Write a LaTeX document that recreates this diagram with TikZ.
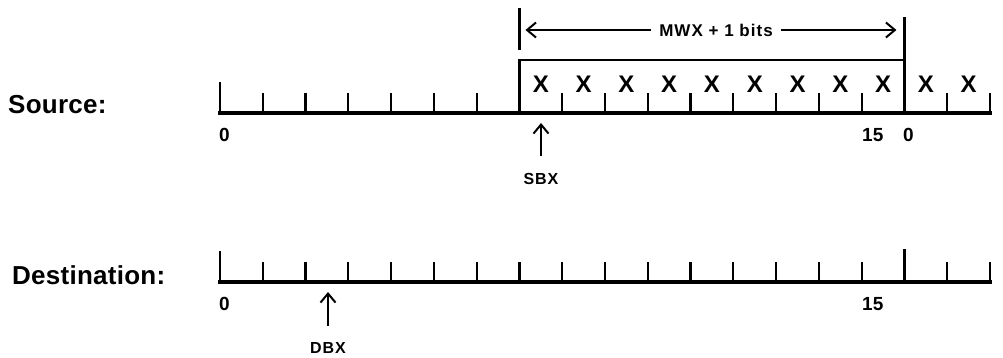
\documentclass[tikz,border=0pt]{standalone}
\usepackage{fontspec}
\setmainfont{Liberation Sans}
\newfontfamily\bigf{Liberation Sans}[LetterSpace=1]
\newfontfamily\smallf{Liberation Sans}[LetterSpace=6]
\usetikzlibrary{arrows.meta}
\begin{document}
\begin{tikzpicture}[x=1pt,y=-1pt,
  axisline/.style={line width=3.4pt,line cap=rect},
  tickline/.style={line width=2.2pt},
  frameline/.style={line width=2.8pt},
  arr/.style={line width=2.2pt,-{Straight Barb[length=9pt,width=15pt,line width=2pt]}},
  rowlabel/.style={font=\bigf\bfseries\fontsize{26}{30}\selectfont,anchor=west,inner sep=0pt},
  lab/.style={font=\smallf\bfseries\fontsize{16}{19}\selectfont,inner sep=0pt},
  numlab/.style={font=\bfseries\fontsize{19}{22}\selectfont,inner sep=0pt,anchor=west},
  xmark/.style={font=\bfseries\fontsize{24}{28}\selectfont,inner sep=0pt}]
\useasboundingbox (0,0) rectangle (1003,358);
\def\dx{42.78}
% ---------------- Source ----------------
\node[rowlabel] (srclab) at (8,105) {Source:};
\draw[axisline] (220,113) -- (990,113);
\draw[tickline] (220,113) -- (220,82);
\foreach \k in {1,...,6,8,9,...,15,17,18}
  \draw[tickline] ({220+\dx*\k},113) -- ++(0,-20);
\draw[frameline] ({220+\dx*7},113) -- ({220+\dx*7},60) -- ({220+\dx*16},60) -- ({220+\dx*16},113);
\draw[tickline] ({220+\dx*7},8) -- ({220+\dx*7},50);
\draw[tickline] ({220+\dx*16},17) -- ({220+\dx*16},60);
\foreach \k in {7,...,17}
  \node[xmark] at ({220+\dx*(\k+0.5)},84) {X};
\node[lab,fill=white,inner xsep=8pt,font=\smallf\bfseries\fontsize{17}{20}\selectfont] (mwx) at (716,30) {MWX + 1 bits};
\coordinate (al) at ({220+\dx*7+6},30);
\coordinate (ar) at ({220+\dx*16-8},30);
\draw[arr] (mwx.west) -- (al);
\draw[arr] (mwx.east) -- (ar);
\node[numlab] (s0) at (219,135) {0};
\node[numlab] (s15) at (862,135) {15};
\node[numlab] (s16) at (903,135) {0};
\coordinate (sbxs) at (541,156);
\coordinate (sbxt) at (541,123);
\draw[arr] (sbxs) -- (sbxt);
\node[lab] (sbx) at (541,179) {SBX};
% ---------------- Destination ----------------
\node[rowlabel] (dstlab) at (12,275) {Destination:};
\draw[axisline] (220,282) -- (990,282);
\draw[tickline] (220,282) -- (220,251);
\draw[tickline] ({220+\dx*16},282) -- ({220+\dx*16},249);
\foreach \k in {1,...,15,17,18}
  \draw[tickline] ({220+\dx*\k},282) -- ++(0,-20);
\node[numlab] (d0) at (219,304) {0};
\node[numlab] (d15) at (862,304) {15};
\coordinate (dbxs) at (328,326);
\coordinate (dbxt) at (328,292);
\draw[arr] (dbxs) -- (dbxt);
\node[lab] (dbx) at (328,348) {DBX};
\end{tikzpicture}
\end{document}
